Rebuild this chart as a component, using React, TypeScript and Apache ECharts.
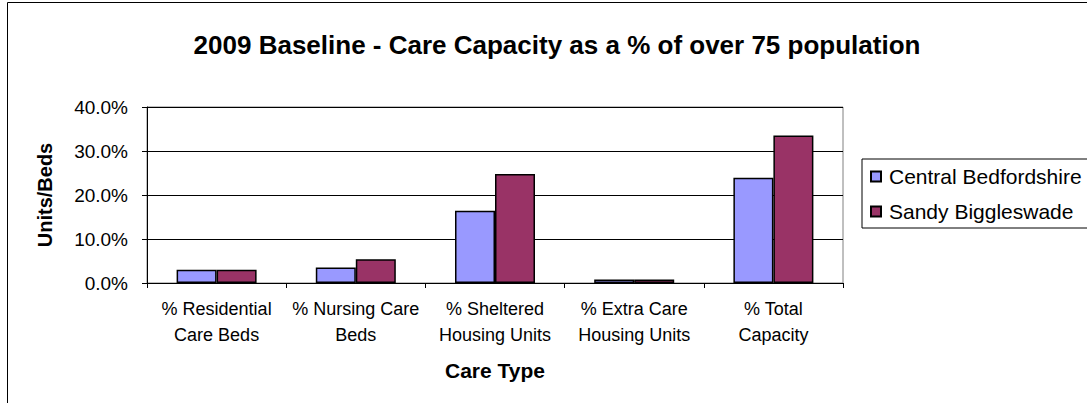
import React, { useEffect, useRef } from "react";
import * as echarts from "echarts";

const categories = [
  "% Residential\nCare Beds",
  "% Nursing Care\nBeds",
  "% Sheltered\nHousing Units",
  "% Extra Care\nHousing Units",
  "% Total\nCapacity",
];
const centralBedfordshire = [3.0, 3.5, 16.4, 0.8, 23.9];
const sandyBiggleswade = [3.0, 5.4, 24.8, 0.8, 33.5];
const seriesNames = ["Central Bedfordshire", "Sandy Biggleswade"];
const titleText = "2009 Baseline - Care Capacity as a % of over 75 population";

const FONT = "'Liberation Sans', Arial, sans-serif";

export default function App() {
  const ref = useRef<HTMLDivElement>(null);
  useEffect(() => {
    if (!ref.current) return;
    const chart = echarts.init(ref.current, undefined, { renderer: "svg" });
    chart.setOption({
      animation: false,
      backgroundColor: "#ffffff",
      textStyle: { fontFamily: FONT },
      title: {
        text: titleText,
        left: 552,
        top: 27,
        textAlign: "center",
        textStyle: { fontFamily: FONT, fontWeight: "bold", fontSize: 26, color: "#000" },
      },
      graphic: [
        {
          type: "rect",
          shape: { x: 7.5, y: 2.5, width: 1100, height: 420 },
          style: { fill: "none", stroke: "#000", lineWidth: 1 },
          silent: true,
          z: -1,
        },
      ],
      legend: {
        orient: "vertical",
        left: 862,
        top: 159,
        padding: [7, 40, 6, 8],
        itemGap: 14,
        itemWidth: 10,
        itemHeight: 10,
        icon: "rect",
        borderColor: "#000",
        borderWidth: 1,
        textStyle: { fontFamily: FONT, fontSize: 21, color: "#000", padding: [0, 0, 0, 3] },
        data: seriesNames,
      },
      grid: {
        left: 147,
        right: 244,
        top: 107,
        bottom: 120,
        show: true,
        borderColor: "#808080",
        borderWidth: 1,
        backgroundColor: "#ffffff",
      },
      xAxis: {
        type: "category",
        data: categories,
        name: "Care Type",
        nameLocation: "middle",
        nameGap: 77,
        nameTextStyle: { fontFamily: FONT, fontWeight: "bold", fontSize: 21, color: "#000" },
        axisLine: { lineStyle: { color: "#000", width: 1 } },
        axisTick: { show: true, length: 5, lineStyle: { color: "#000" } },
        axisLabel: {
          fontFamily: FONT,
          fontSize: 18,
          color: "#000",
          lineHeight: 26,
          margin: 13,
          interval: 0,
        },
      },
      yAxis: {
        type: "value",
        min: 0,
        max: 40,
        interval: 10,
        name: "Units/Beds",
        nameLocation: "middle",
        nameGap: 92,
        nameTextStyle: { fontFamily: FONT, fontWeight: "bold", fontSize: 20, color: "#000" },
        axisLine: { show: true, lineStyle: { color: "#000", width: 1 } },
        axisTick: { show: true, length: 5, lineStyle: { color: "#000" } },
        axisLabel: {
          fontFamily: FONT,
          fontSize: 19,
          color: "#000",
          margin: 19,
          formatter: (v: number) => v.toFixed(1) + "%",
        },
        splitLine: { show: true, lineStyle: { color: "#000", width: 1 } },
      },
      series: [
        {
          name: seriesNames[0],
          type: "bar",
          data: centralBedfordshire,
          barWidth: 40,
          barGap: "0%",
          itemStyle: { color: "#9999FF", borderColor: "#000", borderWidth: 1.5 },
        },
        {
          name: seriesNames[1],
          type: "bar",
          data: sandyBiggleswade,
          barWidth: 40,
          barGap: "0%",
          itemStyle: { color: "#993366", borderColor: "#000", borderWidth: 1.5 },
        },
      ],
    });
    return () => chart.dispose();
  }, []);
  return (
    <div
      ref={ref}
      style={{ position: "fixed", left: 0, top: 0, width: 1087, height: 403 }}
    />
  );
}
